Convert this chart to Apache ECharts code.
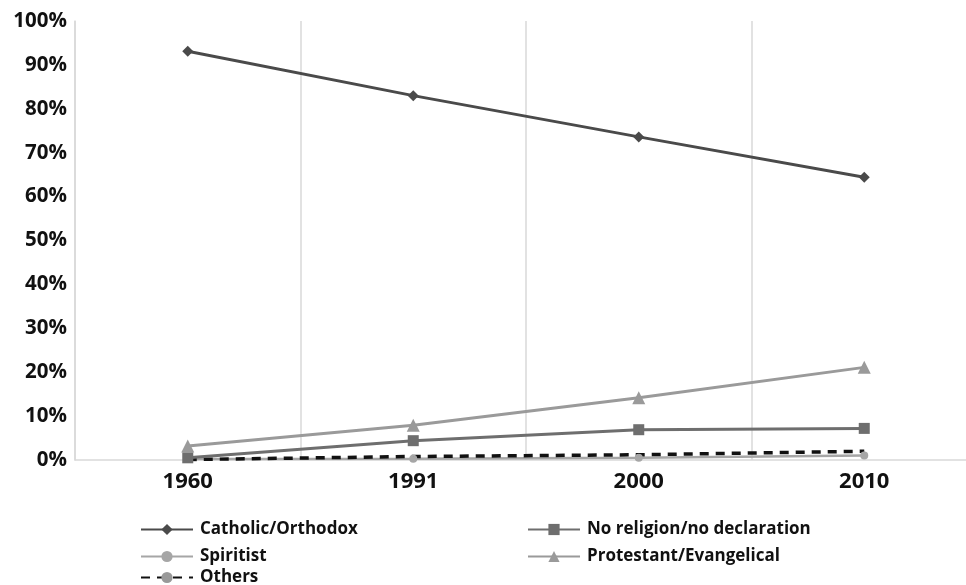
<!DOCTYPE html>
<html>
<head>
<meta charset="utf-8">
<script src="https://cdn.jsdelivr.net/npm/echarts@6/dist/echarts.min.js"></script>
<style>
html,body{margin:0;padding:0;background:#fff;}
#c{width:966px;height:585px;}
</style>
</head>
<body>
<div id="c"></div>
<script>
const years = ['1960', '1991', '2000', '2010'];
const catholic = [93.1, 83.0, 73.6, 64.4];
const noReligion = [0.5, 4.4, 6.9, 7.2];
const spiritist = [0.2, 0.3, 0.5, 1.0];
const protestant = [3.2, 7.9, 14.2, 21.1];
const others = [0.1, 0.8, 1.2, 2.0];
const yTicks = [0, 10, 20, 30, 40, 50, 60, 70, 80, 90, 100];

const FONT = '"Open Sans", sans-serif';
const chart = echarts.init(document.getElementById('c'));
const lbl = { fontFamily: FONT, fontWeight: 'bold', fontSize: 17, lineHeight: 14, color: '#111', padding: [0, 0, 0, 2] };
const legendBase = { orient: 'vertical', itemWidth: 52, itemHeight: 14, itemGap: 10, padding: 0, textStyle: lbl };

chart.setOption({
  animation: false,
  grid: { left: 75, top: 21, width: 902, height: 439, containLabel: false, outerBoundsMode: 'none' },
  xAxis: {
    type: 'category', data: years, boundaryGap: true,
    axisLine: { lineStyle: { color: '#d9d9d9', width: 1.5 } },
    axisTick: { show: false },
    axisLabel: { fontFamily: FONT, fontWeight: 'bold', fontSize: 22, color: '#111', margin: 11 },
    splitLine: { show: true, lineStyle: { color: '#d9d9d9', width: 1.5 } }
  },
  yAxis: {
    type: 'value', min: 0, max: 100, interval: 10,
    axisLine: { show: true, lineStyle: { color: '#d9d9d9', width: 1.5 } },
    axisTick: { show: false },
    splitLine: { show: false },
    axisLabel: { fontFamily: FONT, fontWeight: 'bold', fontSize: 20.5, color: '#111', margin: 8,
      formatter: v => yTicks.includes(v) ? v + '%' : '' }
  },
  legend: [
    Object.assign({ left: 140, top: 521, data: ['Catholic/Orthodox', 'Spiritist'] }, legendBase),
    Object.assign({ left: 140, top: 569, data: ['Others'] }, legendBase),
    Object.assign({ left: 527, top: 521, data: ['No religion/no declaration', 'Protestant/Evangelical'] }, legendBase)
  ],
  series: [
    { name: 'Catholic/Orthodox', type: 'line', data: catholic, symbol: 'diamond', symbolSize: 11,
      lineStyle: { color: '#4a4a4a', width: 3 }, itemStyle: { color: '#4a4a4a' } },
    { name: 'Spiritist', type: 'line', data: spiritist, symbol: 'circle', symbolSize: 8,
      lineStyle: { color: '#a6a6a6', width: 2.5 }, itemStyle: { color: '#a6a6a6' } },
    { name: 'Others', type: 'line', data: others, symbol: 'circle', symbolSize: 1,
      lineStyle: { color: '#111', width: 3.5, type: [9, 7] }, itemStyle: { color: '#999' } },
    { name: 'No religion/no declaration', type: 'line', data: noReligion, symbol: 'rect', symbolSize: 11,
      lineStyle: { color: '#6e6e6e', width: 3 }, itemStyle: { color: '#6e6e6e' } },
    { name: 'Protestant/Evangelical', type: 'line', data: protestant, symbol: 'triangle', symbolSize: 13,
      lineStyle: { color: '#9a9a9a', width: 3 }, itemStyle: { color: '#9a9a9a' } }
  ]
});
</script>
</body>
</html>
